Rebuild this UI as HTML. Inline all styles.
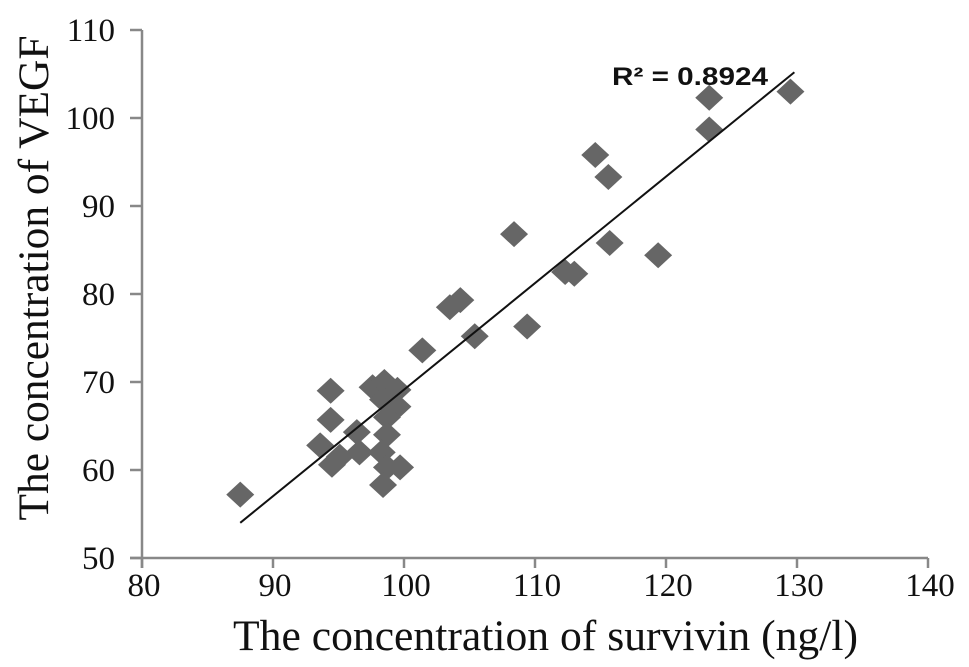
<!DOCTYPE html>
<html><head><meta charset="utf-8"><style>
html,body{margin:0;padding:0;background:#fff;}
svg{display:block;}
</style></head><body>
<svg id="chart" width="969" height="667" xmlns="http://www.w3.org/2000/svg">
<g id="axes"></g>
<g id="marks"></g>
<text x="612" y="85" textLength="156" lengthAdjust="spacingAndGlyphs" font-family="Liberation Sans, sans-serif" font-weight="bold" font-size="25" fill="#111">R² = 0.8924</text>
<text transform="translate(48,278) rotate(-90)" text-anchor="middle" textLength="485" lengthAdjust="spacingAndGlyphs" font-family="Liberation Serif, serif" font-size="43" fill="#111">The concentration of VEGF</text>
<text x="233" y="650" textLength="625" lengthAdjust="spacingAndGlyphs" font-family="Liberation Serif, serif" font-size="43" fill="#111">The concentration of  survivin (ng/l)</text>
</svg>
<script>
const xTicks=[80,90,100,110,120,130,140];
const yTicks=[50,60,70,80,90,100,110];
const survivin=[87.5,94.4,94.4,93.6,94.5,95.1,96.4,96.6,97.6,98.5,99.5,98.4,99.5,98.7,98.7,98.3,98.7,99.7,98.4,101.4,103.5,104.3,105.4,108.4,109.4,112.3,113.0,114.6,115.6,115.7,119.4,123.3,123.3,129.5];
const vegf=[57.2,69.0,65.7,62.8,60.6,61.5,64.3,62.0,69.4,70.0,69.1,68.0,67.2,66.0,64.0,62.0,60.3,60.3,58.3,73.6,78.5,79.3,75.2,86.8,76.3,82.5,82.3,95.8,93.3,85.8,84.4,102.3,98.7,103.0];
const trendX=[87.5,129.8];
const trendY=[54.0,105.2];
const NS='http://www.w3.org/2000/svg';
function sx(v){return 142+(v-80)*13.1;}
function sy(v){return 558-(v-50)*8.8;}
function el(t,a,p){const e=document.createElementNS(NS,t);for(const k in a)e.setAttribute(k,a[k]);p.appendChild(e);return e;}
const axes=document.getElementById('axes');
const marks=document.getElementById('marks');
let e=el('line',{x1:sx(80),y1:sy(110),x2:sx(80),y2:sy(50)+10,stroke:'#888','stroke-width':2.5},axes);


e=el('line',{x1:sx(80)-12,y1:sy(50),x2:sx(140),y2:sy(50),stroke:'#888','stroke-width':2.5},axes);


xTicks.forEach(t=>{
  const l=el('line',{x1:sx(t),y1:sy(50),x2:sx(t),y2:sy(50)+10,stroke:'#888','stroke-width':2.5},axes);
  
  
  const tx=el('text',{x:sx(t)+2,y:sy(50)+38,'text-anchor':'middle','font-family':'Liberation Serif, serif','font-size':33,fill:'#111'},axes);
  tx.textContent=t;
  
  
});
yTicks.forEach(t=>{
  const l=el('line',{x1:sx(80)-12,y1:sy(t),x2:sx(80),y2:sy(t),stroke:'#888','stroke-width':2.5},axes);
  
  
  const tx=el('text',{x:sx(80)-27,y:sy(t)+11,'text-anchor':'end','font-family':'Liberation Serif, serif','font-size':33,fill:'#111'},axes);
  tx.textContent=t;
  
  
});
survivin.forEach((xv,i)=>{
  const cx=sx(xv),cy=sy(vegf[i]),r=13;
  const p=el('polygon',{points:`${cx},${cy-r} ${cx+r+1},${cy} ${cx},${cy+r} ${cx-r-1},${cy}`,fill:'#666'},marks);
  
  
});
const tl=el('line',{x1:sx(trendX[0]),y1:sy(trendY[0]),x2:sx(trendX[1]),y2:sy(trendY[1]),stroke:'#111','stroke-width':2},marks);


</script>
</body></html>
